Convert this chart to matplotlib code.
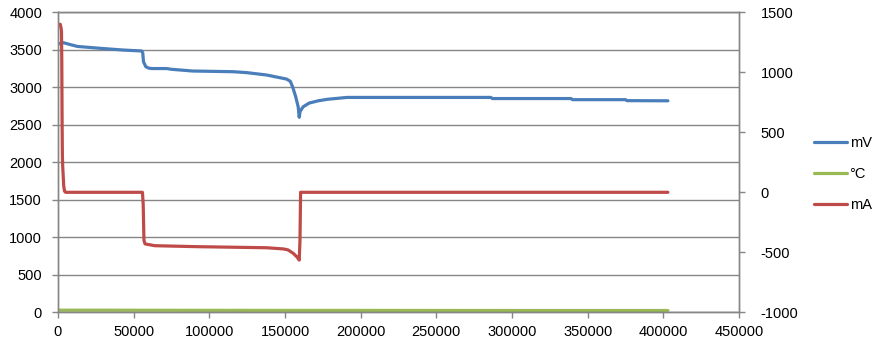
"""Excel-style mV / °C / mA log chart, two y axes."""

import matplotlib
matplotlib.use("Agg")
import matplotlib.pyplot as plt

plt.rcParams["font.family"] = ["Liberation Sans", "DejaVu Sans"]
plt.rcParams["axes.unicode_minus"] = False

# time axis points (s) and readings
mv_t = [0, 3500, 8000, 12800, 27700, 43000, 55300, 56000, 56500, 58000, 60000,
        62000, 71800, 75000, 89000, 115700, 125000, 137800, 151000, 153500,
        155000, 157000, 158700, 159400, 160000, 162000, 166000, 172000, 178000,
        191000, 286000, 287000, 339000, 340000, 375000, 376000, 403000]
mv = [3577, 3595, 3570, 3545, 3520, 3497, 3484, 3460, 3340, 3275, 3255,
      3250, 3250, 3240, 3217, 3208, 3195, 3164, 3110, 3080,
      3008, 2880, 2741, 2600, 2680, 2740, 2790, 2820, 2840,
      2865, 2865, 2850, 2850, 2835, 2835, 2822, 2820]

degc_t = [0, 30000, 100000, 200000, 300000, 403000]
degc = [28, 28, 26, 25, 24, 24]

ma_t = [0, 1500, 2000, 2300, 2500, 2700, 2900, 3100, 3800, 4300, 5000,
        55800, 56300, 56800, 57500, 64000, 91600, 137800, 149000, 152000,
        155400, 158000, 159400, 159900, 160300, 403000]
ma = [1400, 1400, 1370, 1340, 1100, 600, 300, 218, 50, 10, 0,
      0, -100, -400, -430, -445, -453, -462, -472, -480,
      -508, -540, -565, -400, 0, 0]

BLUE = "#4A7EBB"
GREEN = "#98B954"
RED = "#BE4B48"
GRID = "#868686"
FS = 10.5

fig = plt.figure(figsize=(8.84, 3.51), dpi=100)
ax = fig.add_axes([58 / 884, 1 - 312.3 / 351, (739 - 58) / 884, 300 / 351])
ax2 = ax.twinx()

l1, = ax.plot(mv_t, mv, color=BLUE, lw=2.3, solid_capstyle="round", label="mV")
l2, = ax.plot(degc_t, degc, color=GREEN, lw=2.3, solid_capstyle="round", label="°C")
l3, = ax2.plot(ma_t, ma, color=RED, lw=2.3, solid_capstyle="round", label="mA")

ax.set_xlim(0, 450000)
ax.set_ylim(0, 4000)
ax2.set_ylim(-1000, 1500)
ax.set_xticks(range(0, 450001, 50000))
ax.set_yticks(range(0, 4001, 500))
ax2.set_yticks(range(-1000, 1501, 500))

ax.grid(True, axis="y", color=GRID, lw=1)
ax.set_axisbelow(True)

for a in (ax, ax2):
    for side in ("left", "right", "bottom", "top"):
        a.spines[side].set_color(GRID)
        a.spines[side].set_linewidth(1)
    a.tick_params(direction="out", length=4.5, width=1, color=GRID,
                  labelsize=FS, labelcolor="black")
ax.tick_params(axis="y", pad=7)
ax2.tick_params(axis="y", pad=11)
ax.tick_params(axis="x", pad=5)

fig.legend(handles=[l1, l2, l3], loc="center left",
           bbox_to_anchor=(808 / 884, 1 - 174 / 351), frameon=False,
           fontsize=FS, handlelength=2.3, handletextpad=0.15, labelspacing=1.15,
           borderaxespad=0)

fig.savefig("out.png", dpi=100)
